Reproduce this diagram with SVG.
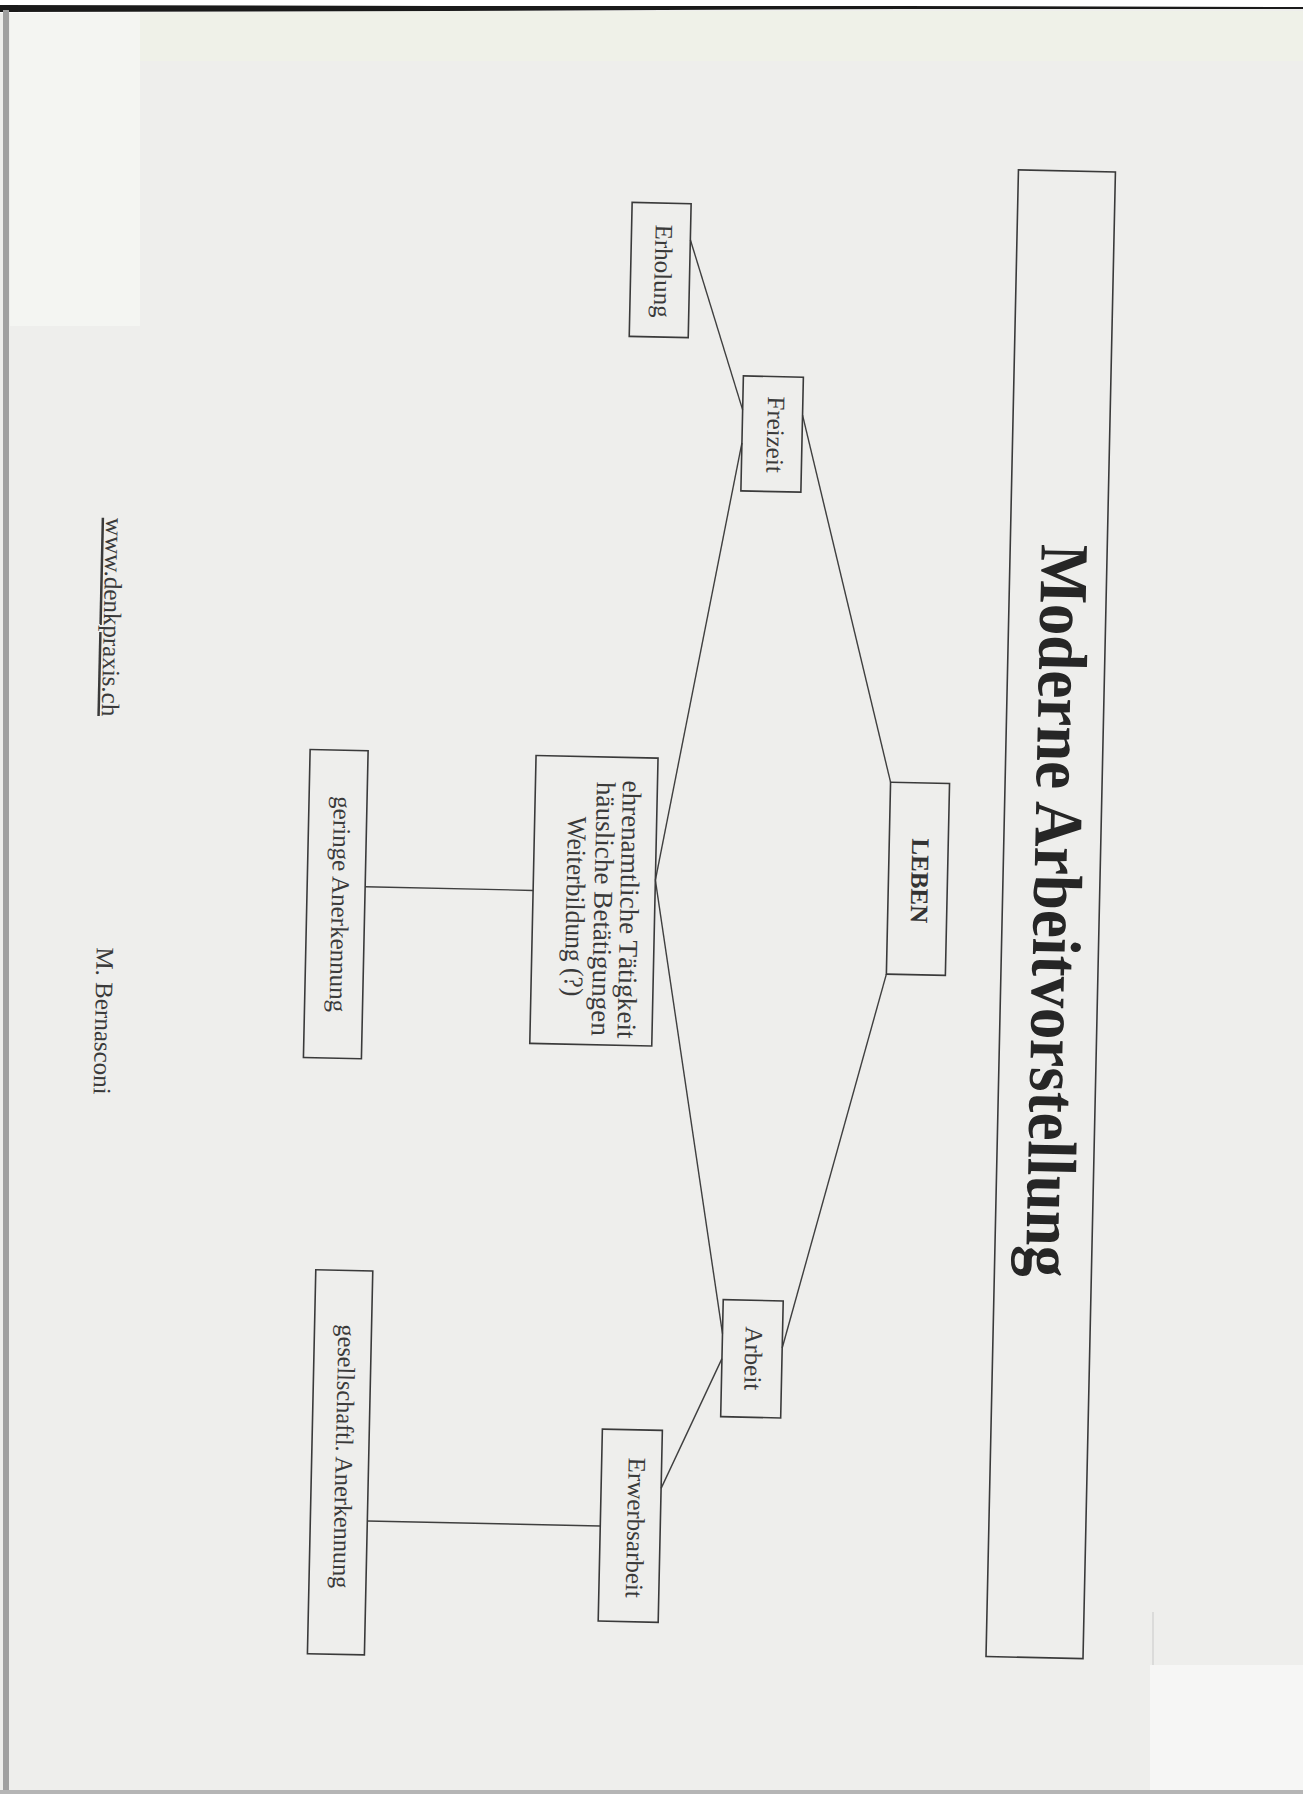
<svg xmlns="http://www.w3.org/2000/svg" width="1303" height="1794" viewBox="0 0 1303 1794">
  <style>
    .box { fill: none; stroke: #3a3a3a; stroke-width: 1.6; }
    .conn line { stroke: #3f3f3f; stroke-width: 1.4; fill: none; }
    .lbl { font-family: "Liberation Serif", "Times New Roman", serif; font-size: 25px; fill: #3a3a3a; text-anchor: middle; }
    .mid { font-size: 27px; }
    .bold { font-weight: bold; fill: #333333; }
    .title { font-family: "Liberation Serif", "Times New Roman", serif; font-size: 69px; font-weight: bold; fill: #262626; text-anchor: middle; }
    .foot { font-family: "Liberation Serif", "Times New Roman", serif; font-size: 25px; fill: #3a3a3a; text-anchor: middle; }
  </style>
  <!-- scanned page background -->
  <rect x="0" y="0" width="1303" height="1794" fill="#eeeeec"/>
  <rect x="10" y="11" width="130" height="315" fill="#f4f5f2"/>
  <rect x="140" y="11" width="1163" height="50" fill="#eff1e8"/>
  <rect x="1150" y="1665" width="153" height="129" fill="#f6f6f5"/>
  <line x1="1153" y1="1612" x2="1153" y2="1665" stroke="#c8c8c8" stroke-width="1"/>
  <path d="M0,0 H1303 V7 L900,9 L440,11 L0,13 Z" fill="#ffffff"/>
  <path d="M0,5 L440,6 L900,6 L1303,7 L1303,9 L900,9 L440,11 L0,12 Z" fill="#1a1a1a"/>
  <rect x="3" y="10" width="6" height="1784" fill="#a0a0a0"/>
  <rect x="0" y="1790" width="1303" height="4" fill="#b5b5b5"/>

  <g id="diagram" transform="rotate(1.25 651 897)">
    <g id="connectors" class="conn">
      <line x1="676" y1="239" x2="732" y2="408"/>
      <line x1="792" y1="412" x2="888" y2="777"/>
      <line x1="732" y1="441" x2="655" y2="880"/>
      <line x1="655" y1="880" x2="732" y2="1332"/>
      <line x1="888" y1="969" x2="792" y2="1345"/>
      <line x1="732" y1="1357" x2="674" y2="1488"/>
      <line x1="365" y1="893" x2="533" y2="893"/>
      <line x1="381" y1="1527" x2="614" y2="1527"/>
    </g>

    <g id="title">
      <rect class="box" x="1002.5" y="162" width="97" height="1487"/>
      <text class="title" transform="translate(1034 902) rotate(90)" textLength="733" lengthAdjust="spacingAndGlyphs">Moderne Arbeitvorstellung</text>
    </g>

    <g id="erholung">
      <rect class="box" x="617" y="203" width="59" height="134"/>
      <text class="lbl" transform="translate(641 271) rotate(90)">Erholung</text>
    </g>

    <g id="freizeit">
      <rect class="box" x="732" y="374" width="60" height="115"/>
      <text class="lbl" transform="translate(757 432) rotate(90)">Freizeit</text>
    </g>

    <g id="leben">
      <rect class="box" x="888" y="777" width="59" height="192"/>
      <text class="lbl bold" transform="translate(911 875) rotate(90)">LEBEN</text>
    </g>

    <g id="taetigkeiten">
      <rect class="box" x="533" y="758" width="122" height="288"/>
      <text class="lbl mid" transform="translate(620.5 910) rotate(90)" textLength="258" lengthAdjust="spacingAndGlyphs">ehrenamtliche Tätigkeit</text>
      <text class="lbl mid" transform="translate(594.5 910) rotate(90)" textLength="254" lengthAdjust="spacingAndGlyphs">häusliche Betätigungen</text>
      <text class="lbl mid" transform="translate(566.5 908) rotate(90)" textLength="180" lengthAdjust="spacingAndGlyphs">Weiterbildung (?)</text>
    </g>

    <g id="geringe">
      <rect class="box" x="307" y="757" width="58" height="308"/>
      <text class="lbl" transform="translate(332 911) rotate(90)">geringe Anerkennung</text>
    </g>

    <g id="arbeit">
      <rect class="box" x="732" y="1298" width="60" height="117"/>
      <text class="lbl" transform="translate(755 1356) rotate(90)">Arbeit</text>
    </g>

    <g id="erwerbsarbeit">
      <rect class="box" x="614" y="1430" width="60" height="192"/>
      <text class="lbl" transform="translate(641 1528) rotate(90)">Erwerbsarbeit</text>
    </g>

    <g id="gesellschaftl">
      <rect class="box" x="324" y="1277" width="57" height="384"/>
      <text class="lbl" transform="translate(348 1463) rotate(90)" textLength="264" lengthAdjust="spacingAndGlyphs">gesellschaftl. Anerkennung</text>
    </g>

    <g id="footer">
      <text class="foot" transform="translate(98 629) rotate(90)" text-decoration="underline">www.denkpraxis.ch</text>
      <text class="foot" transform="translate(98 1033) rotate(90)">M. Bernasconi</text>
    </g>
  </g>
</svg>
